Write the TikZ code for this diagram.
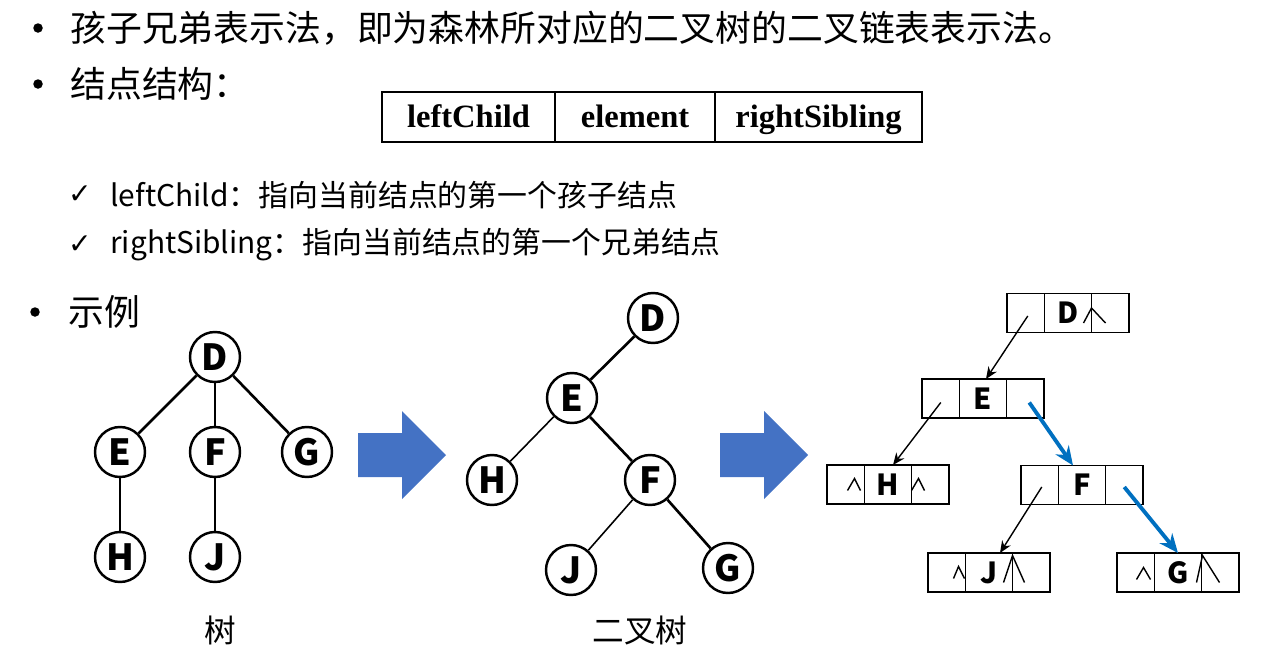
\documentclass[tikz,border=0pt]{standalone}
\usepackage{fontspec}
\setmainfont{Noto Sans CJK SC}
\newfontfamily\symfont{DejaVu Sans}
\newfontfamily\tabfont{Liberation Serif}
\usepackage{tikz}
\usetikzlibrary{positioning,arrows.meta,calc}
\definecolor{sibling}{HTML}{0070C0}
\definecolor{block}  {HTML}{4472C4}

\begin{document}
\begin{tikzpicture}[x=0.2mm,y=-0.2mm,
  txt/.style={anchor=west,inner sep=0pt,font=\fontsize{20.4}{24}\selectfont},
  sub/.style={anchor=west,inner sep=0pt,font=\fontsize{17}{20}\selectfont},
  dot/.style={circle,fill=black,inner sep=0pt,minimum size=1.9mm},
  tick/.style={inner sep=0pt,font=\symfont\fontsize{16}{18}\selectfont},
  field/.style={draw,line width=1.1pt,outer sep=0pt,anchor=west,minimum height=10mm,
                inner sep=0pt,text height=14pt,text depth=2pt,
                font=\tabfont\bfseries\fontsize{18.5}{20}\selectfont},
  vtx/.style={circle,draw,line width=1.4pt,minimum size=10mm,inner sep=0pt,
              font=\bfseries\fontsize{20.5}{22}\selectfont},
  strong/.style={line width=1.5pt},
  weak/.style={line width=0.9pt},
  cell/.style={draw,line width=1.1pt,outer sep=0pt,anchor=west,inner sep=0pt,
               minimum width=7.5mm,minimum height=7.8mm},
  mid/.style={cell,minimum width=9.4mm,font=\bfseries\fontsize{16.5}{18}\selectfont},
  nil/.style={line width=0.8pt},
  lnk/.style={-{Stealth[length=2.4mm,width=2mm]},line width=0.8pt},
  sib/.style={-{Stealth[length=3.8mm,width=3.2mm]},line width=2.2pt,draw=sibling},
  caption/.style={font=\fontsize{18}{20}\selectfont},
  blockarrow/.style={fill=block,draw=none}]

\useasboundingbox (0,0) rectangle (1275,659);

% text lines
\node[dot] (b1) at (38,28) {};
\node[txt] (t1) at (70,28) {孩子兄弟表示法，即为森林所对应的二叉树的二叉链表表示法。};
\node[dot] (b2) at (38,84) {};
\node[txt] (t2) at (70,84) {结点结构：};

\node[field,minimum width=34.6mm] (lc) at (382,117) {leftChild};
\node[field,minimum width=32mm] (el) at (lc.east) {element};
\node[field,minimum width=41.4mm] (rs) at (el.east) {rightSibling};

\node[tick] (c1) at (80,195) {✓};
\node[sub] (s1) at (110,195) {leftChild：指向当前结点的第一个孩子结点};
\node[tick] (c2) at (80,245) {✓};
\node[sub] (s2) at (110,245) {rightSibling：指向当前结点的第一个兄弟结点};

\node[dot] (b3) at (35,312) {};
\node[txt] (t3) at (68,312) {示例};

% tree
\node[vtx] (d) at (215,357) {D};
\node[vtx] (e) at (120,452) {E};
\node[vtx] (f) at (215,452) {F};
\node[vtx] (g) at (307,452) {G};
\node[vtx] (h) at (120,557) {H};
\node[vtx] (j) at (215,557) {J};
\draw[strong] (d) -- (e);
\draw[strong] (d) -- (f);
\draw[strong] (d) -- (g);
\draw[weak] (e) -- (h);
\draw[weak] (f) -- (j);
\node[caption] (cap1) at (220,630) {树};

\fill[blockarrow] (358,433) -- (402,433) -- (402,411) -- (446,455)
  -- (402,499) -- (402,477) -- (358,477) -- cycle;

% binary tree
\node[vtx] (bd) at (653,318) {D};
\node[vtx] (be) at (572,398) {E};
\node[vtx] (bh) at (492,480) {H};
\node[vtx] (bf) at (650,480) {F};
\node[vtx] (bj) at (571,570) {J};
\node[vtx] (bg) at (728,568) {G};
\draw[strong] (bd) -- (be);
\draw[weak] (be) -- (bh);
\draw[strong] (be) -- (bf);
\draw[weak] (bf) -- (bj);
\draw[strong] (bf) -- (bg);
\node[caption] (cap2) at (640,630) {二叉树};

\fill[blockarrow] (720,433) -- (764,433) -- (764,411) -- (808,455)
  -- (764,499) -- (764,477) -- (720,477) -- cycle;

% linked nodes
\foreach \n/\l/\x/\y in {d/{D\hspace{3mm}}/1007/313, e/E/922/398.5, h/H/827/484.5,
                         f/F/1021/485, j/{J\hspace{2mm}}/928/572.5, g/G/1117/572.5}{
  \node[cell] (\n-l) at (\x,\y) {};
  \node[mid] (\n-m) at (\n-l.east) {\l};
  \node[cell] (\n-r) at (\n-m.east) {};
}

\draw[nil] ($(d-r.west)+(-8,10)$) -- ++(8,-15) -- ++(14,15);
\draw[nil] ($(h-l.east)+(-17,6)$) -- ++(7,-12) -- ++(6,12);
\draw[nil] ($(h-r.west)+(0,6)$) -- ++(7,-12) -- ++(6,12);
\draw[nil] ($(j-l.east)+(-12,6)$) -- ++(5,-12) -- ++(6,12);
\draw[nil] ($(j-r.west)+(-9,10)$) -- ++(9,-27) -- ++(12,27);
\draw[nil] ($(g-l.east)+(-18,7)$) -- ++(7,-12) -- ++(7,12);
\draw[nil] ($(g-r.west)+(-5,10)$) -- ++(6,-27) -- ++(17,27);

\draw[lnk] ($(d-l.center)+(2,3)$) -- ($(e-m.north)+(3,0)$);
\draw[lnk] ($(e-l.center)+(0,4)$) -- ($(h-m.north)+(5,0)$);
\draw[lnk] ($(f-l.center)+(2,2)$) -- ($(j-m.north)+(11,0)$);
\draw[sib] ($(e-r.center)+(4,4)$) -- ($(f-m.north)+(-9,0)$);
\draw[sib] ($(f-r.center)+(0,2)$) -- (g-m.north);
\end{tikzpicture}
\end{document}
